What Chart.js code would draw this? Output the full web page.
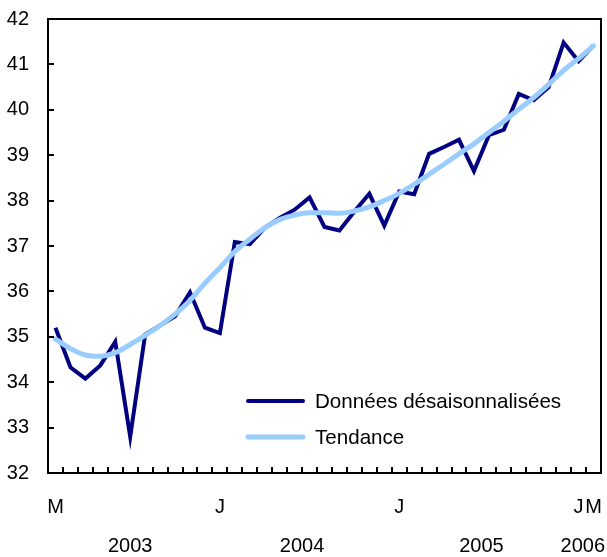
<!DOCTYPE html>
<html>
<head>
<meta charset="utf-8">
<script src="https://cdn.jsdelivr.net/npm/chart.js@4.4.1/dist/chart.umd.min.js"></script>
<style>
  html, body { margin: 0; padding: 0; background: #ffffff; }
  #wrap { width: 607px; height: 557px; }
</style>
</head>
<body>
<div id="wrap"><canvas id="c" width="607" height="557"></canvas></div>
<script>
// ---- data ----
const monthLabels = ['M','','','','','','','','','','','J','','','','','','','','','','','','J','','','','','','','','','','','','J','M'];
const yearLabels = ['2003','2004','2005','2006'];
const yearStartIndex = [0, 11, 23, 35];
const seasonalValues = [35.2, 34.33, 34.08, 34.37, 34.89, 32.8, 35.05, 35.25, 35.45, 35.98, 35.2, 35.08,
  37.09, 37.04, 37.4, 37.62, 37.8, 38.07, 37.42, 37.34, 37.76, 38.15, 37.45,
  38.2, 38.14, 39.03, 39.18, 39.34, 38.65, 39.44, 39.56, 40.35, 40.21, 40.5, 41.48,
  41.07, 41.42];
const trendValues = [34.95, 34.74, 34.6, 34.57, 34.65, 34.83, 35.03, 35.25, 35.5, 35.8, 36.18, 36.52,
  36.88, 37.15, 37.4, 37.58, 37.68, 37.73, 37.73, 37.72, 37.77, 37.86, 38.0,
  38.16, 38.36, 38.58, 38.8, 39.03, 39.25, 39.5, 39.75, 40.01, 40.27, 40.56, 40.87,
  41.13, 41.41];
const seriesNames = ['Données désaisonnalisées', 'Tendance'];
const yMin = 32, yMax = 42, yStep = 1;

const FONT = '"Liberation Sans", Arial, sans-serif';
const DARK = '#000080';
const LIGHT = '#99CCFF';

const framePlugin = {
  id: 'framePlugin',
  afterDraw(chart) {
    const ctx = chart.ctx;
    const a = chart.chartArea;
    const xs = chart.scales.x;
    const ys = chart.scales.y;
    ctx.save();
    ctx.strokeStyle = '#000';
    ctx.lineWidth = 2;
    ctx.lineCap = 'butt';
    ctx.strokeRect(a.left, a.top, a.right - a.left, a.bottom - a.top);
    ys.ticks.forEach(t => {
      const y = Math.round(ys.getPixelForValue(t.value));
      ctx.beginPath();
      ctx.moveTo(a.left, y);
      ctx.lineTo(a.left + 6, y);
      ctx.stroke();
    });
    const n = chart.data.labels.length;
    for (let i = 1; i < n; i++) {
      const x = Math.round((xs.getPixelForValue(i - 1) + xs.getPixelForValue(i)) / 2);
      ctx.beginPath();
      ctx.moveTo(x, a.bottom);
      ctx.lineTo(x, a.bottom - 6);
      ctx.stroke();
    }
    ctx.fillStyle = '#000';
    ctx.font = '20px ' + FONT;
    ctx.textAlign = 'center';
    ctx.textBaseline = 'middle';
    for (let k = 0; k < yearLabels.length; k++) {
      const s = yearStartIndex[k];
      const e = (k + 1 < yearStartIndex.length ? yearStartIndex[k + 1] : n) - 1;
      let cx = (xs.getPixelForValue(s) + xs.getPixelForValue(e)) / 2;
      const w = ctx.measureText(yearLabels[k]).width;
      cx = Math.min(cx, chart.width - w / 2 - 2);
      ctx.fillText(yearLabels[k], cx, 546);
    }
    const ds = chart.data.datasets;
    const items = [
      ds.find(d => d.label === seriesNames[0]),
      ds.find(d => d.label === seriesNames[1])
    ];
    const rowsY = [401, 437];
    ctx.textAlign = 'left';
    ctx.font = '20.6px ' + FONT;
    items.forEach((d, i) => {
      ctx.beginPath();
      ctx.strokeStyle = d.borderColor;
      ctx.lineWidth = d.borderWidth;
      ctx.lineCap = 'round';
      ctx.moveTo(248, rowsY[i]);
      ctx.lineTo(303, rowsY[i]);
      ctx.stroke();
      ctx.fillStyle = '#000';
      ctx.fillText(d.label, 315, rowsY[i] + 1);
    });
    ctx.restore();
  }
};

new Chart(document.getElementById('c'), {
  type: 'line',
  data: {
    labels: monthLabels,
    datasets: [
      {
        label: seriesNames[0],
        data: seasonalValues,
        borderColor: DARK,
        borderWidth: 4,
        pointRadius: 0,
        tension: 0,
        borderJoinStyle: 'miter',
        borderCapStyle: 'butt',
        fill: false,
        order: 1
      },
      {
        label: seriesNames[1],
        data: trendValues,
        borderColor: LIGHT,
        borderWidth: 5,
        pointRadius: 0,
        cubicInterpolationMode: 'monotone',
        borderCapStyle: 'round',
        fill: false,
        order: 0
      }
    ]
  },
  options: {
    responsive: false,
    animation: false,
    devicePixelRatio: 1,
    layout: { padding: { top: 19, right: 6, left: 0, bottom: 0 } },
    plugins: {
      legend: { display: false },
      tooltip: { enabled: false }
    },
    scales: {
      x: {
        type: 'category',
        offset: true,
        grid: { display: false, drawTicks: false },
        border: { display: false },
        ticks: {
          autoSkip: false,
          maxRotation: 0,
          minRotation: 0,
          padding: 22,
          color: '#000',
          font: { family: FONT, size: 20 }
        },
        afterFit(scale) {
          scale.height = 84;
          scale.paddingLeft = 0; scale.paddingRight = 0;
          scale.paddingTop = 0; scale.paddingBottom = 0;
        }
      },
      y: {
        min: yMin,
        max: yMax,
        grid: { display: false, drawTicks: false },
        border: { display: false },
        ticks: {
          stepSize: yStep,
          padding: 19,
          color: '#000',
          font: { family: FONT, size: 20 }
        },
        afterFit(scale) {
          scale.width = 48;
          scale.paddingLeft = 0; scale.paddingRight = 0;
          scale.paddingTop = 0; scale.paddingBottom = 0;
        }
      }
    }
  },
  plugins: [framePlugin]
});
</script>
</body>
</html>
